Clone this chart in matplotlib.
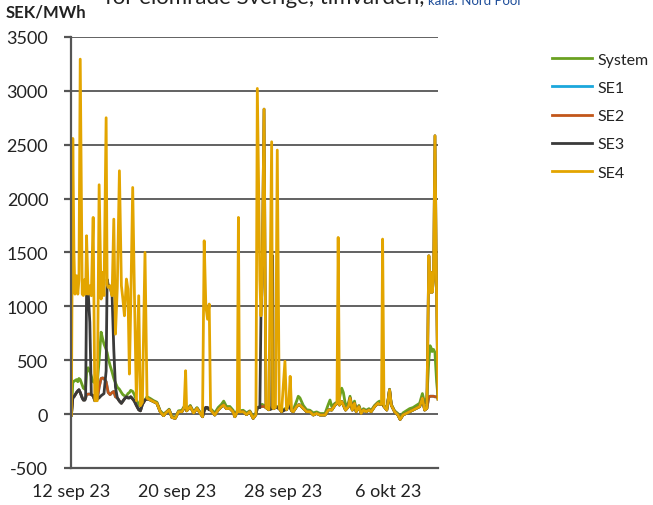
import matplotlib
matplotlib.use("Agg")
import matplotlib.pyplot as plt
import numpy as np
import pandas as pd

# hours after 2023-09-12 00:00
hours = [0.6, 3.1, 5.2, 7.0, 10.0, 12.2, 14.3, 16.6, 20.2, 22.3, 24.9, 26.4, 28.1, 31.0, 34.0, 36.7,
         40.1, 43.1, 47.6, 50.9, 54.5, 57.2, 59.7, 63.6, 65.4, 67.3, 70.8, 74.4, 77.5, 80.5, 83.9, 87.7,
         91.3, 94.0, 96.8, 100.4, 103.1, 105.8, 108.2, 111.8, 114.8, 118.5, 122.7, 125.8, 129.4, 134.1,
         137.8, 143.5, 149.6, 155.7, 161.7, 167.8, 172.8, 177.9, 182.9, 189.0, 195.0, 201.1, 205.1, 207.8,
         209.7, 216.3, 222.3, 228.4, 234.4, 238.5, 241.5, 244.5, 247.6, 250.6, 253.1, 257.7, 260.7, 266.8,
         272.8, 276.9, 281.9, 288.0, 294.0, 297.1, 301.6, 303.6, 305.6, 312.2, 318.3, 324.3, 330.4, 335.4,
         337.9, 342.5, 344.5, 346.5, 350.1, 353.6, 358.7, 363.9, 365.7, 366.9, 370.8, 374.1, 377.7, 381.9,
         388.0, 391.0, 395.0, 397.5, 400.1, 403.1, 409.2, 412.2, 415.2, 421.3, 427.3, 433.4, 439.5, 445.5,
         451.6, 460.7, 466.7, 469.8, 472.8, 478.9, 482.4, 484.6, 486.9, 491.0, 494.0, 498.0, 503.1, 506.1,
         510.2, 514.2, 517.2, 522.3, 526.3, 530.4, 535.4, 540.5, 544.5, 550.6, 556.6, 559.7, 563.2, 565.2,
         567.7, 572.8, 577.8, 580.9, 586.9, 593.0, 597.0, 602.1, 608.1, 614.2, 620.3, 626.3, 632.4, 637.4,
         641.5, 645.5, 649.1, 651.4, 653.2, 655.0, 657.6, 660.2, 663.2, 665.7]

se4 = [-10, 2558, 1500, 1113, 1284, 1113, 1250, 3294, 1113, 1100, 1250, 1113, 1655, 1113, 1190, 1098,
       1825, 124, 124, 2128, 1067, 1315, 1100, 2750, 1200, 1175, 1191, 1098, 1809, 742, 1180, 2258,
       1191, 1067, 912, 1253, 1160, 371, 1000, 2103, 1160, 124, 1098, 77, 110, 1500,
       147, 131, 116, 100, 22, -15, 15, 37, -31, -40, 22, 22, 60, 402,
       30, 69, 10, 53, 6, -25, 1608, 1000, 880, 1021, 40, 10, -9, 37,
       69, 84, 50, 53, 20, -25, 20, 1825, 20, 22, -5, 22, -40, -5,
       3022, 1250, 912, 1200, 2830, 60, 40, 2527, 60, 50, 60, 2450, 50, 22,
       490, 40, 100, 350, 30, 22, 69, 84, 84, 53, 22, 22, -9, 6,
       -9, -9, 37, 40, 37, 84, 100, 1639, 84, 116, 84, 37, 69, 147,
       37, 100, 22, 69, 6, 37, 22, 37, 22, 69, 100, 90, 90, 1624,
       70, 37, 225, 84, 22, -9, -50, -9, 6, 22, 37, 53, 69, 147,
       37, 53, 1469, 1129, 1315, 1129, 1250, 2583, 1100, 139]

se3 = [-10, 150, 160, 175, 200, 215, 225, 200, 150, 130, 130, 150, 1129, 1140, 851, 180,
       170, 124, 140, 150, 170, 180, 190, 400, 1250, 1200, 1180, 1100, 600, 250, 150, 120,
       100, 120, 140, 160, 150, 150, 160, 140, 120, 80, 40, 30, 90, 130,
       140, 131, 116, 100, 22, -15, 15, 37, -31, -40, 22, 22, 60, 50,
       30, 69, 10, 53, 6, -25, 30, 62, 60, 40, 40, 10, -9, 37,
       69, 84, 50, 53, 20, -25, 20, 20, 20, 22, -5, 22, -40, -5,
       60, 60, 912, 1200, 2830, 60, 40, 50, 1469, 50, 60, 60, 50, 22,
       40, 40, 100, 60, 30, 22, 69, 84, 84, 53, 22, 22, -9, 6,
       -9, -9, 37, 40, 37, 84, 100, 100, 84, 116, 84, 37, 69, 147,
       37, 100, 22, 69, 6, 37, 22, 37, 22, 69, 100, 90, 90, 90,
       70, 37, 225, 84, 22, -9, -50, -9, 6, 22, 37, 53, 69, 147,
       37, 53, 1469, 1129, 1315, 1129, 1250, 2583, 1100, 139]

se2 = [-10, 150, 160, 175, 200, 215, 225, 200, 150, 130, 130, 150, 180, 185, 185, 180,
       170, 124, 140, 250, 330, 335, 330, 300, 250, 200, 180, 200, 210, 160, 150, 120,
       100, 120, 140, 160, 150, 150, 160, 140, 120, 80, 40, 30, 90, 130,
       140, 131, 116, 100, 22, -15, 15, 37, -31, -40, 22, 22, 60, 50,
       30, 69, 10, 53, 6, -25, 30, 62, 60, 40, 40, 10, -9, 37,
       69, 84, 50, 53, 20, -25, 20, 20, 20, 22, -5, 22, -40, -5,
       60, 60, 70, 70, 70, 60, 40, 50, 50, 50, 60, 60, 50, 22,
       40, 40, 100, 60, 30, 22, 69, 84, 84, 53, 22, 22, -9, 6,
       -9, -9, 37, 40, 37, 84, 100, 100, 84, 116, 84, 37, 69, 147,
       37, 100, 22, 69, 6, 37, 22, 37, 22, 69, 100, 90, 90, 90,
       70, 37, 225, 84, 22, -9, -50, -9, 6, 22, 37, 53, 69, 147,
       37, 53, 160, 165, 165, 165, 165, 160, 160, 150]

se1 = [-10, 150, 160, 175, 200, 215, 225, 200, 150, 130, 130, 150, 180, 185, 185, 180,
       170, 124, 140, 250, 330, 335, 330, 300, 250, 200, 180, 200, 210, 160, 150, 120,
       100, 120, 140, 160, 150, 150, 160, 140, 120, 80, 40, 30, 90, 130,
       140, 131, 116, 100, 22, -15, 15, 37, -31, -40, 22, 22, 60, 50,
       30, 69, 10, 53, 6, -25, 30, 62, 60, 40, 40, 10, -9, 37,
       69, 84, 50, 53, 20, -25, 20, 20, 20, 22, -5, 22, -40, -5,
       60, 60, 70, 70, 70, 60, 40, 50, 50, 50, 60, 60, 50, 22,
       40, 40, 100, 60, 30, 22, 69, 84, 84, 53, 22, 22, -9, 6,
       -9, -9, 37, 40, 37, 84, 100, 100, 84, 116, 84, 37, 69, 147,
       37, 100, 22, 69, 6, 37, 22, 37, 22, 69, 100, 90, 90, 90,
       70, 37, 225, 84, 22, -9, -50, -9, 6, 22, 37, 53, 69, 147,
       37, 53, 160, 165, 165, 165, 165, 160, 160, 150]

system = [0, 290, 305, 310, 320, 300, 330, 320, 270, 240, 230, 250, 380, 430, 400, 350,
          300, 290, 290, 500, 760, 700, 650, 600, 570, 520, 450, 390, 330, 290, 250, 230,
          200, 180, 170, 165, 190, 200, 220, 210, 180, 130, 90, 70, 100, 130,
          160, 145, 125, 110, 30, 0, 20, 45, -20, -30, 30, 35, 70, 60,
          40, 80, 20, 60, 15, -10, 40, 50, 50, 45, 50, 25, 10, 60,
          90, 120, 70, 70, 35, -10, 35, 35, 30, 35, 10, 30, -25, 10,
          60, 70, 80, 90, 80, 70, 50, 60, 60, 60, 70, 70, 60, 30,
          50, 50, 100, 70, 40, 40, 120, 165, 150, 80, 40, 35, 10, 20,
          5, 5, 90, 130, 70, 100, 110, 110, 150, 240, 200, 80, 100, 165,
          60, 120, 40, 80, 20, 50, 35, 50, 35, 80, 110, 120, 100, 100,
          80, 50, 230, 90, 30, 5, -35, 10, 30, 50, 60, 80, 100, 190,
          100, 150, 500, 634, 615, 580, 600, 570, 300, 160]

series_names = ["System", "SE1", "SE2", "SE3", "SE4"]
series_colors = ["#6AA121", "#1BA7DC", "#C2561A", "#3A3A3A", "#E3A500"]
tick_dates = ["2023-09-12", "2023-09-20", "2023-09-28", "2023-10-06"]
tick_labels = ["12 sep 23", "20 sep 23", "28 sep 23", "6 okt 23"]

start = pd.Timestamp("2023-09-12 00:00")
times = start + pd.to_timedelta(hours, unit="h")

plt.rcParams['font.family'] = ['Lato', 'DejaVu Sans']
plt.rcParams['axes.unicode_minus'] = False

fig = plt.figure(figsize=(6.53, 5.06), dpi=100)
ax = fig.add_axes([0.108, 0.0733, 0.563, 0.8517])

for name, vals, col in zip(series_names, [system, se1, se2, se3, se4], series_colors):
    ax.plot(times, vals, color=col, lw=2.0, label=name, solid_joinstyle='round')

ax.set_ylim(-500, 3500)
ax.set_yticks(np.arange(-500, 3501, 500))
ax.set_xlim(start - pd.Timedelta(hours=1), start + pd.Timedelta(hours=666))
ax.set_xticks(pd.to_datetime(tick_dates))
ax.set_xticklabels(tick_labels)

ax.grid(axis='y', color='#555555', lw=1.3)
ax.set_axisbelow(True)
for s in ['top', 'right']:
    ax.spines[s].set_visible(False)
for s in ['left', 'bottom']:
    ax.spines[s].set_color('#555555')
    ax.spines[s].set_linewidth(1.6)
ax.tick_params(axis='y', length=5, width=1.6, color='#555555', labelsize=13, pad=11, labelcolor='#222222')
ax.tick_params(axis='x', length=0, labelsize=13, pad=11, labelcolor='#222222')

fig.text(0.008, 0.976, "SEK/MWh", fontsize=12, fontweight='bold', ha='left', va='center', color='#222222')
t1 = fig.text(0.161, 1.003, "för elområde Sverige, timvärden,", fontsize=16, ha='left', va='center', color='#222222')
fig.canvas.draw()
bb = t1.get_window_extent(renderer=fig.canvas.get_renderer())
fig.text((bb.x1 + 3) / fig.bbox.width, 0.998, "källa: Nord Pool", fontsize=9.5, ha='left', va='center', color='#1F4E9A')

leg = fig.legend(loc='upper left', bbox_to_anchor=(0.836, 0.907), frameon=False, fontsize=11.5,
                 handlelength=2.5, labelspacing=0.88, handletextpad=0.3, borderaxespad=0)
for t in leg.get_texts():
    t.set_color('#222222')

fig.savefig("out.png", dpi=100)
